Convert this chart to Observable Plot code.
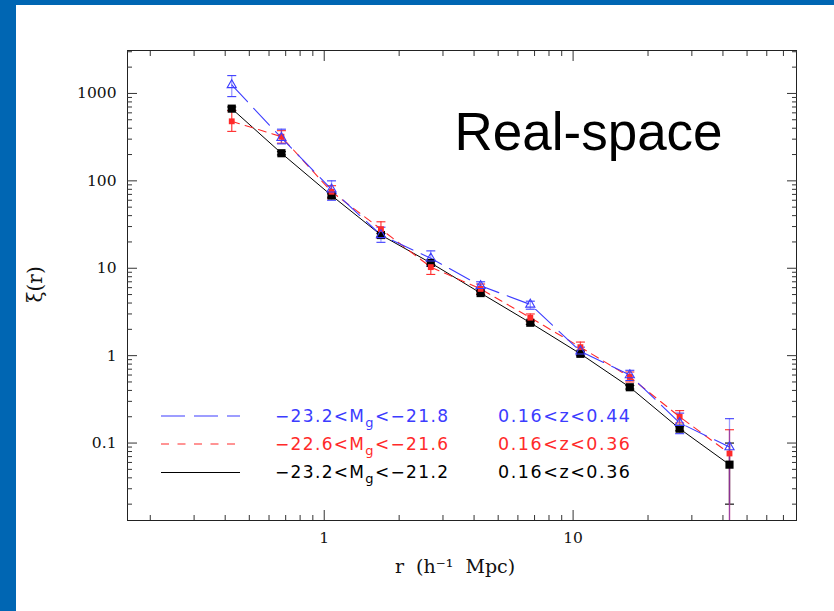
<!DOCTYPE html>
<html><head><meta charset="utf-8">
<script src="https://cdn.jsdelivr.net/npm/d3@7"></script>
<script src="https://cdn.jsdelivr.net/npm/@observablehq/plot@0.6"></script>
<style>
html,body{margin:0;padding:0;background:#fff;}
#wrap{position:relative;width:834px;height:611px;overflow:hidden;background:#fff;}
#chart{position:absolute;left:0;top:0;}
#barL{position:absolute;left:0;top:0;width:16px;height:611px;background:#0066b3;}
#barT{position:absolute;left:0;top:0;width:834px;height:5px;background:#0066b3;}
#legend{position:absolute;left:0;top:0;}
</style></head><body>
<div id="wrap"><div id="chart"></div><svg id="legend" width="834" height="611"></svg><div id="barL"></div><div id="barT"></div></div>
<script>
// separation r (h^-1 Mpc)
const r = [0.425, 0.673, 1.07, 1.69, 2.68, 4.25, 6.73, 10.7, 16.9, 26.8, 42.5];

// -23.2<Mg<-21.8, 0.16<z<0.44 (blue)
const blueXi = [1250, 310, 80, 24, 13, 6.3, 3.85, 1.12, 0.6, 0.17, 0.09];
const blueLo = [920, 265, 60, 19.8, 10.5, 5.6, 3.4, 1.0, 0.52, 0.128, 0.005];
const blueHi = [1600, 390, 100, 29.5, 15.8, 7.0, 4.2, 1.25, 0.68, 0.22, 0.19];

// -22.6<Mg<-21.6, 0.16<z<0.36 (red)
const redXi = [480, 320, 75, 28, 10.3, 5.8, 2.72, 1.25, 0.57, 0.2, 0.076];
const redLo = [368, 270, 63, 22, 8.5, 5.1, 2.45, 1.1, 0.5, 0.17, 0.005];
const redHi = [634, 375, 88, 34, 12.5, 6.6, 3.0, 1.43, 0.65, 0.235, 0.142];

// -23.2<Mg<-21.2, 0.16<z<0.36 (black)
const blackXi = [670, 207, 68, 24, 11.5, 5.2, 2.38, 1.05, 0.435, 0.146, 0.0566];
const blackLo = [640, 198, 65, 23, 11.0, 5.0, 2.28, 1.0, 0.415, 0.138, 0.02];
const blackHi = [700, 216, 71, 25, 12.0, 5.4, 2.48, 1.1, 0.455, 0.154, 0.1];

// ticks
const xMajor = [1, 10];
const xMinor = [0.2,0.3,0.4,0.5,0.6,0.7,0.8,0.9,2,3,4,5,6,7,8,9,20,30,40,50,60,70];
const yMajor = [0.1, 1, 10, 100, 1000];
const yMinor = [0.02,0.03,0.04,0.05,0.06,0.07,0.08,0.09,0.2,0.3,0.4,0.5,0.6,0.7,0.8,0.9,
  2,3,4,5,6,7,8,9,20,30,40,50,60,70,80,90,200,300,400,500,600,700,800,900,2000,3000];

const BLUE = "#3c3cff", RED = "#ff2a2a", BLACK = "#000000";

const series = [
  {key:"black", color:BLACK, xi:blackXi, lo:blackLo, hi:blackHi, op:1},
  {key:"red", color:RED, xi:redXi, lo:redLo, hi:redHi, op:0.85},
  {key:"blue", color:BLUE, xi:blueXi, lo:blueLo, hi:blueHi, op:0.5}
];
const rows = [];
for (const s of series) r.forEach((rv, i) => rows.push({s:s.key, color:s.color, r:rv, xi:s.xi[i], lo:s.lo[i], hi:s.hi[i]}));
const of = k => rows.filter(d => d.s === k);

const capSymbol = {draw(ctx, size){ ctx.moveTo(-4.5,0); ctx.lineTo(4.5,0); }};

const serifFont = "DejaVu Serif";

const marks = [];
// error bars & caps
for (const s of series) {
  const d = of(s.key);
  marks.push(Plot.ruleX(d, {x:"r", y1:"lo", y2:"hi", stroke:s.color, strokeOpacity:s.op, strokeWidth:1.3, clip:true}));
  marks.push(Plot.dot(d, {x:"r", y:"lo", symbol:capSymbol, stroke:s.color, strokeWidth:1.1, r:3, clip:true}));
  marks.push(Plot.dot(d, {x:"r", y:"hi", symbol:capSymbol, stroke:s.color, strokeWidth:1.1, r:3, clip:true}));
}
// lines
marks.push(Plot.line(of("black"), {x:"r", y:"xi", stroke:BLACK, strokeWidth:1}));
marks.push(Plot.line(of("red"), {x:"r", y:"xi", stroke:RED, strokeWidth:1.1, strokeDasharray:"8,6"}));
marks.push(Plot.line(of("blue"), {x:"r", y:"xi", stroke:BLUE, strokeWidth:1.1, strokeDasharray:"23,9"}));
// markers
marks.push(Plot.dot(of("black"), {x:"r", y:"xi", symbol:"square", r:4.6, fill:BLACK, stroke:"none"}));
marks.push(Plot.dot(of("red"), {x:"r", y:"xi", symbol:"square", r:3.3, fill:RED, stroke:"none"}));
marks.push(Plot.dot(of("blue"), {x:"r", y:"xi", symbol:"triangle", r:3.4, fill:"none", stroke:BLUE, strokeWidth:1.1}));

// frame
marks.push(Plot.frame({stroke:"#222", strokeWidth:1}));
// inward ticks
const tk = (fn, data, anchor, size, shift) => {
  const o = {anchor, tickSize:size, fill:"none", label:null, stroke:"#333"};
  if (anchor === "left") o.dx = shift;
  if (anchor === "right") o.dx = -shift;
  if (anchor === "bottom") o.dy = -shift;
  if (anchor === "top") o.dy = shift;
  return fn(data, o);
};
for (const a of ["left","right"]) {
  marks.push(tk(Plot.axisY, yMajor, a, 10, 10));
  marks.push(tk(Plot.axisY, yMinor, a, 5, 5));
}
for (const a of ["bottom","top"]) {
  marks.push(tk(Plot.axisX, xMajor, a, 10, 10));
  marks.push(tk(Plot.axisX, xMinor, a, 5, 5));
}
// tick labels
marks.push(Plot.axisY(yMajor, {anchor:"left", tickSize:0, tickPadding:11, label:null, tickFormat:d3.format("~g"), fontFamily:serifFont, fontSize:15.5, fill:"#111"}));
marks.push(Plot.axisX(xMajor, {anchor:"bottom", tickSize:0, tickPadding:11, label:null, tickFormat:d3.format("~g"), fontFamily:serifFont, fontSize:15.5, fill:"#111"}));
// axis titles
marks.push(Plot.text(["r  (h\u207B\u00B9  Mpc)"], {frameAnchor:"bottom", dx:-7, dy:52, fontFamily:serifFont, fontSize:19, fill:"#111"}));
marks.push(Plot.text(["\u03BE(r)"], {frameAnchor:"left", dx:-92, dy:17, rotate:-90, fontFamily:serifFont, fontSize:20, fill:"#111"}));
// annotation
marks.push(Plot.text(["Real-space"], {frameAnchor:"top-left", dx:327, dy:83, textAnchor:"start", lineAnchor:"middle", fontFamily:"Liberation Sans", fontSize:53, fill:"#000"}));

const chart = Plot.plot({
  width: 834, height: 611,
  marginLeft: 127, marginRight: 38, marginTop: 50, marginBottom: 91,
  x: {type:"log", domain:[0.162, 79]},
  y: {type:"log", domain:[0.013, 3100]},
  style: {background:"transparent", color:"#000", fontFamily:serifFont},
  marks
});
document.getElementById("chart").appendChild(chart);

// legend (inside the plot frame)
const legendRows = [
  {color:BLUE, dash:"24,9", mag:["\u221223.2<M", "g", "<\u221221.8"], z:"0.16<z<0.44", y:421.5},
  {color:RED, dash:"8,8.5", mag:["\u221222.6<M", "g", "<\u221221.6"], z:"0.16<z<0.36", y:449.5},
  {color:BLACK, dash:null, mag:["\u221223.2<M", "g", "<\u221221.2"], z:"0.16<z<0.36", y:478}
];
const L = d3.select("#legend");
for (const row of legendRows) {
  const ln = L.append("line").attr("x1",161).attr("x2",240).attr("y1",row.y-5.5).attr("y2",row.y-5.5)
    .attr("stroke",row.color).attr("stroke-width",1.1);
  if (row.dash) ln.attr("stroke-dasharray",row.dash);
  const t = L.append("text").attr("x",275).attr("y",row.y).attr("fill",row.color)
    .attr("font-family","DejaVu Sans").attr("font-size",17)
    .attr("textLength",173).attr("lengthAdjust","spacing");
  t.append("tspan").text(row.mag[0]);
  t.append("tspan").attr("dy",5).attr("font-size",13).text(row.mag[1]);
  t.append("tspan").attr("dy",-5).text(row.mag[2]);
  L.append("text").attr("x",498).attr("y",row.y).attr("fill",row.color)
    .attr("font-family","DejaVu Sans").attr("font-size",17.5)
    .attr("textLength",132).attr("lengthAdjust","spacing").text(row.z);
}
</script>
</body></html>
